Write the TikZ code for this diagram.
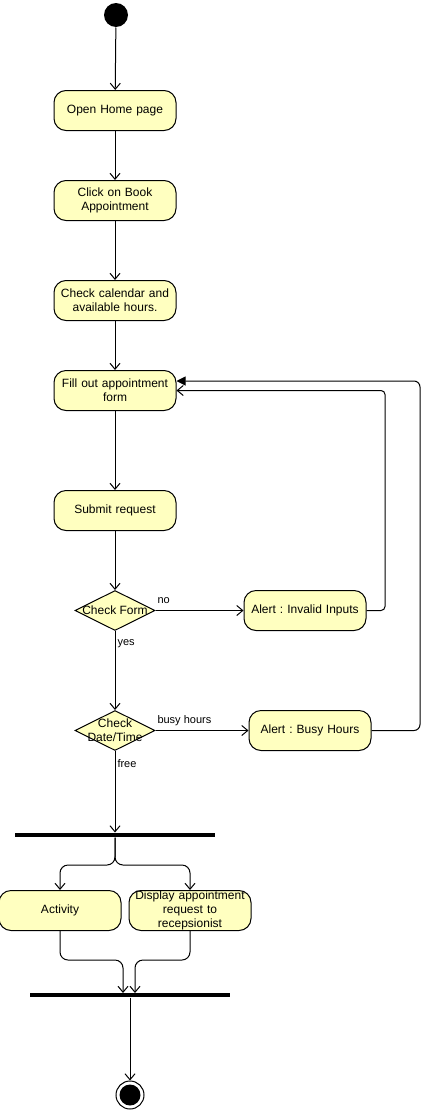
\documentclass[tikz,border=0pt]{standalone}
\usepackage{fontspec}
\setmainfont{Liberation Sans}
\usetikzlibrary{arrows.meta,shapes.geometric}
\definecolor{actfill}{HTML}{FFFFC0}
\begin{document}
\frenchspacing
\begin{tikzpicture}[x=1pt,y=-1pt, line width=1pt,
  font=\fontsize{12}{14}\selectfont,
  act/.style={draw, fill=actfill, rounded corners=12pt, minimum width=120pt, minimum height=40pt, inner sep=0pt, align=center, text width=122pt},
  dec/.style={draw, fill=actfill, diamond, aspect=2, minimum width=80pt, minimum height=40pt, inner sep=0pt},
  dtext/.style={align=center, inner sep=0pt},
  bar/.style={fill=black, minimum width=200pt, minimum height=4pt, inner sep=0pt},
  flow/.style={-{Straight Barb[length=6pt,width=10pt]}},
  lbl/.style={font=\fontsize{11}{13}\selectfont, inner sep=0pt, anchor=west}
]
\useasboundingbox (0,0) rectangle (431,1111);
\node[circle, fill=black, minimum size=24pt, inner sep=0pt] (start) at (116,15) {};
\node[act] (home) at (115,110.5) {Open Home page};
\node[act] (book) at (115,200.5) {Click on Book\\Appointment};
\node[act] (cal) at (115,300.5) {Check calendar and\\available hours.};
\node[act] (fill) at (115,390.5) {Fill out appointment\\form};
\node[act] (sub) at (115,510.5) {Submit request};
\node[dec] (cform) at (115,610.5) {};
\node[dtext] at (cform) {Check Form};
\node[act] (inv) at (305,610.5) {Alert : Invalid Inputs};
\node[dec] (cdate) at (115,730.5) {};
\node[dtext] at (cdate) {Check\\Date/Time};
\node[act] (busy) at (310,730.5) {Alert : Busy Hours};
\node[bar] (fork) at (115,835) {};
\node[act] (activ) at (60,910.5) {Activity};
\node[act] (disp) at (190,910.5) {Display appointment\\request to\\recepsionist};
\node[bar] (join) at (130,995) {};
\node[circle, draw, minimum size=28pt, inner sep=0pt, fill=white] (end) at (130,1095) {};
\node[circle, fill=black, minimum size=21pt, inner sep=0pt] at (end) {};

\draw[flow] (start) -- (home);
\draw[flow] (home) -- (book);
\draw[flow] (book) -- (cal);
\draw[flow] (cal) -- (fill);
\draw[flow] (fill) -- (sub);
\draw[flow] (sub) -- (cform);
\draw[flow] (cform) -- (inv);
\node[lbl] at (157,601) {no};
\draw[flow] (cform) -- (cdate);
\node[lbl] at (117,644) {yes};
\draw[flow] (cdate) -- (busy);
\node[lbl] at (157,721) {busy hours};
\draw[flow] (cdate.south) -- (fork.north);
\node[lbl] at (117,764) {free};
\draw[flow, rounded corners=4pt] (inv.east) -- (385,610.5) -- (385,390.5) -- (fill.east |- 0,390.5);
\draw[-{Triangle[length=9pt,width=9pt]}, rounded corners=6pt] (busy.east) -- (420,730.5) -- (420,381) -- (fill.east |- 0,381);
\draw[flow, rounded corners=8pt] (fork.south) -- (115,865) -- (60,865) -- (activ.north);
\draw[flow, rounded corners=8pt] (fork.south) -- (115,865) -- (190,865) -- (disp.north);
\draw[flow, rounded corners=8pt] (activ.south) -- (60,960) -- (123,960) -- (123,993);
\draw[flow, rounded corners=8pt] (disp.south) -- (190,960) -- (135,960) -- (135,993);
\draw[flow] (join.south) -- (end);
\end{tikzpicture}
\end{document}
